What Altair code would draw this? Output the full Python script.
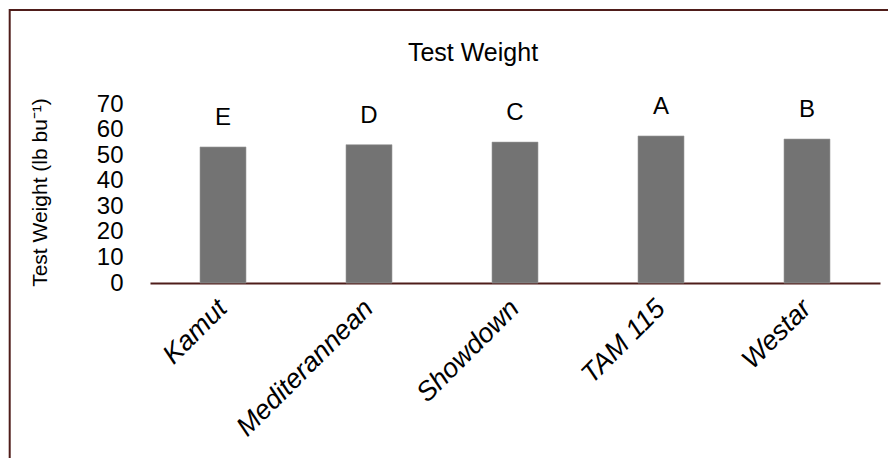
import altair as alt
import pandas as pd

varieties = ["Kamut", "Mediterannean", "Showdown", "TAM 115", "Westar"]
test_weight = [53.2, 54.1, 55.1, 57.5, 56.3]
letters = ["E", "D", "C", "A", "B"]
y_ticks = [0, 10, 20, 30, 40, 50, 60, 70]

df = pd.DataFrame({"variety": varieties, "tw": test_weight, "letter": letters})

FONT = "Liberation Sans"
MAROON = "#4f1d1a"

x_enc = alt.X(
    "variety:N",
    sort=varieties,
    scale=alt.Scale(paddingInner=0.685, paddingOuter=0.3425),
    axis=alt.Axis(
        title=None,
        labelAngle=-45,
        labelAlign="right",
        labelBaseline="middle",
        labelFont=FONT,
        labelFontStyle="italic",
        labelFontSize=27,
        labelColor="black",
        labelPadding=21,
        labelOverlap=False,
        labelBound=False,
        labelLimit=0,
        ticks=False,
        domain=True,
        domainColor=MAROON,
        domainWidth=2,
    ),
)
y_enc = alt.Y(
    "tw:Q",
    scale=alt.Scale(domain=[0, 70], nice=False),
    axis=alt.Axis(
        title="Test Weight (lb bu\u207b\u00b9)",
        titleFont=FONT,
        titleFontSize=21,
        titleFontWeight="normal",
        titleColor="black",
        titleAngle=-90,
        titleAlign="center",
        titleBaseline="middle",
        titleX=-110,
        titleY=88,
        titleLimit=0,
        values=y_ticks,
        labelFont=FONT,
        labelFontSize=24,
        labelColor="black",
        labelPadding=27,
        labelOverlap=False,
        labelBound=False,
        ticks=False,
        domain=False,
        grid=False,
    ),
)

base = alt.Chart(df).encode(x=x_enc, y=y_enc)
bars = base.mark_bar(color="#737373", stroke="#9a9a9a", strokeWidth=0.6)
labels = base.mark_text(
    font=FONT, fontSize=24, color="black", dy=-29, baseline="middle"
).encode(text="letter:N")

one = alt.Data(values=[{"a": 1}])
title = alt.Chart(one).mark_text(
    text="Test Weight", font=FONT, fontSize=25, color="black", baseline="middle", align="center"
).encode(x=alt.value(323), y=alt.value(-51))

border_top = alt.Chart(one).mark_rule(color=MAROON, strokeWidth=2).encode(
    x=alt.value(-140.3), x2=alt.value(760), y=alt.value(-94)
)
border_left = alt.Chart(one).mark_rule(color=MAROON, strokeWidth=2).encode(
    x=alt.value(-140.3), y=alt.value(-95), y2=alt.value(400)
)

chart = (
    alt.layer(border_top, border_left, bars, labels, title)
    .properties(
        width=730,
        height=179,
        padding={"left": 142, "top": 96, "right": 8, "bottom": 175},
        autosize=alt.AutoSizeParams(type="none"),
        background="white",
    )
    .configure_view(strokeWidth=0)
    .configure_axis(labelOverlap=False)
)

chart.save("out.html", embed_options={"renderer": "svg", "actions": False})
